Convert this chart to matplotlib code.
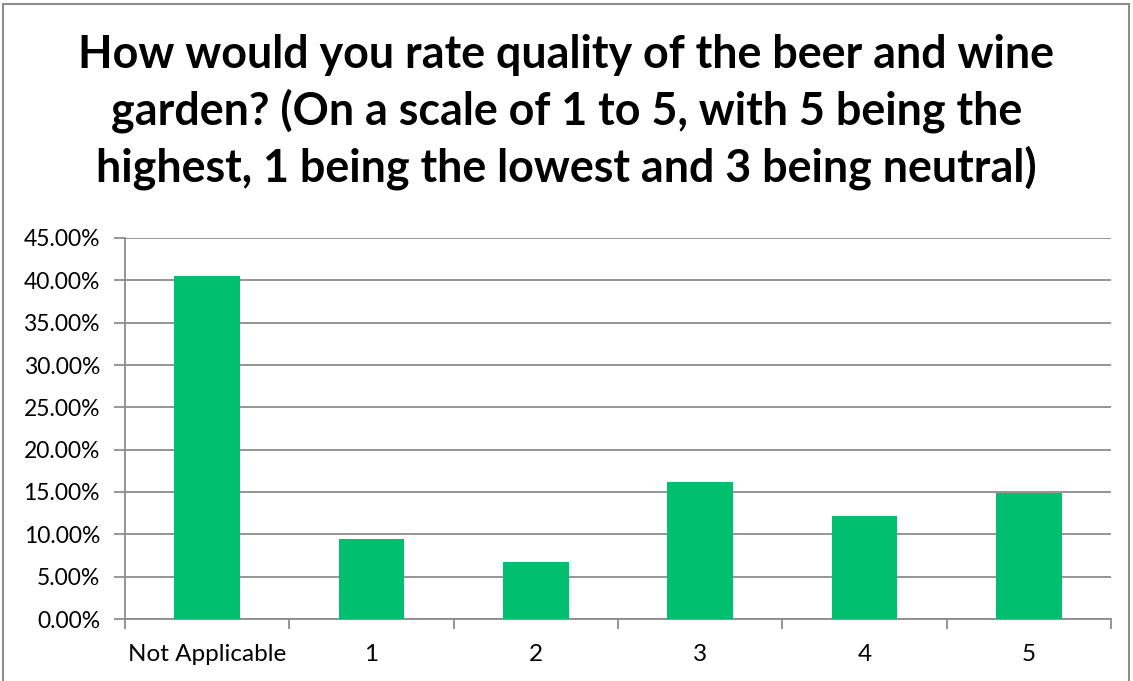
import matplotlib.pyplot as plt
from matplotlib.patches import Rectangle
from matplotlib.ticker import FuncFormatter, FixedLocator

categories = ["Not Applicable", "1", "2", "3", "4", "5"]
shares = [40.54, 9.46, 6.76, 16.22, 12.16, 14.86]

title = ("How would you rate quality of the beer and wine\n"
         "garden? (On a scale of 1 to 5, with 5 being the\n"
         "highest, 1 being the lowest and 3 being neutral)")

grid_gray = "#8c8c8c"
bar_green = "#00bf6f"

fig = plt.figure(figsize=(11.33, 6.81), dpi=100)
ax = fig.add_axes([125 / 1133, 1 - 619 / 681, (1111 - 125) / 1133, (619 - 238) / 681])

x = range(len(categories))
ax.bar(x, shares, width=0.4, color=bar_green, zorder=3)

ax.set_xlim(-0.5, len(categories) - 0.5)
ax.set_ylim(0, 45)
ax.set_yticks(range(0, 46, 5))
ax.yaxis.set_major_formatter(FuncFormatter(lambda v, _: f"{v:.2f}%"))
ax.set_xticks(list(x))
ax.set_xticklabels(categories)
ax.xaxis.set_minor_locator(FixedLocator([i - 0.5 for i in range(len(categories) + 1)]))

ax.grid(axis="y", color=grid_gray, linewidth=1.3, zorder=0)
for side in ["top", "right"]:
    ax.spines[side].set_visible(False)
for side in ["left", "bottom"]:
    ax.spines[side].set_color(grid_gray)
    ax.spines[side].set_linewidth(1.3)

ax.tick_params(axis="x", which="major", length=0, pad=18, labelsize=17.5)
ax.tick_params(axis="x", which="minor", length=7, color=grid_gray, width=1.3)
ax.tick_params(axis="y", length=8, color=grid_gray, width=1.3, labelsize=16.5, pad=10)
for lbl in ax.get_xticklabels() + ax.get_yticklabels():
    lbl.set_fontfamily("Lato")

fig.text(0.5, 1 - 112 / 681, title, ha="center", va="center", fontsize=32.3,
         fontweight="bold", family="Lato", linespacing=1.33)

# outer chart border
fig.patches.append(Rectangle((3 / 1133, -0.01), 1 - 7 / 1133, 1 - 4 / 681 + 0.01,
                             transform=fig.transFigure, fill=False,
                             edgecolor=grid_gray, linewidth=1.5))

fig.savefig("out.png", dpi=100)
